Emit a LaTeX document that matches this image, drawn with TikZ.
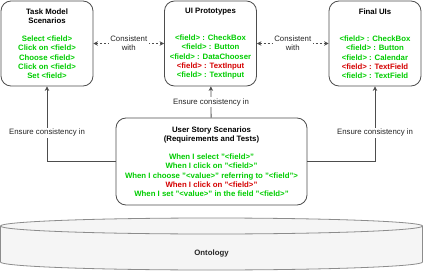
\documentclass[tikz,border=0pt]{standalone}
\usepackage{fontspec}
\setmainfont{Liberation Sans}
\usepackage{xcolor}
\usetikzlibrary{arrows.meta}
\definecolor{uigreen}{HTML}{00CC00}
\definecolor{uired}{HTML}{D40000}
\definecolor{edgegray}{HTML}{4D4D4D}
\definecolor{ontofill}{HTML}{F5F5F5}
\definecolor{ontoline}{HTML}{8C8C8C}
\begin{document}
\begin{tikzpicture}[>={Stealth[length=4.5pt,width=4.5pt]}, x=1pt, y=1pt, line width=0.8pt,
    font=\fontsize{7.8}{9.2}\selectfont,
    scenbox/.style={draw=edgegray, rounded corners=10pt, minimum width=92, minimum height=85, align=center, inner sep=0pt, font=\fontsize{7.8}{9.2}\selectfont\bfseries},
    link/.style={draw=edgegray, ->},
    looselink/.style={draw=edgegray, <->, dash pattern=on 2pt off 2pt},
    linklabel/.style={fill=white, inner sep=1.5pt, align=center, text=black!85}]
    \useasboundingbox (0,0) rectangle (423,271);

    \node[scenbox] (task) at (47,227.5) {Task Model\\Scenarios\\[9.2pt]
        \textcolor{uigreen}{Select <field>}\\
        \textcolor{uigreen}{Click on <field>}\\
        \textcolor{uigreen}{Choose <field>}\\
        \textcolor{uigreen}{Click on <field>}\\
        \textcolor{uigreen}{Set <field>}};
    \node[scenbox] (proto) at (210.5,227.5) {UI Prototypes\\[18.4pt]
        \textcolor{uigreen}{<field> : CheckBox}\\
        \textcolor{uigreen}{<field> : Button}\\
        \textcolor{uigreen}{<field> : DataChooser}\\
        \textcolor{uired}{<field> : TextInput}\\
        \textcolor{uigreen}{<field> : TextInput}};
    \node[scenbox] (final) at (375,227.5) {Final UIs\\[18.4pt]
        \textcolor{uigreen}{<field> : CheckBox}\\
        \textcolor{uigreen}{<field> : Button}\\
        \textcolor{uigreen}{<field> : Calendar}\\
        \textcolor{uired}{<field> : TextField}\\
        \textcolor{uigreen}{<field> : TextField}};
    \node[scenbox, minimum width=191, minimum height=87] (story) at (211.5,109.5) {User Story Scenarios\\(Requirements and Tests)\\[9.2pt]
        \textcolor{uigreen}{When I select "<field>"}\\
        \textcolor{uigreen}{When I click on "<field>"}\\
        \textcolor{uigreen}{When I choose "<value>" referring to "<field">}\\
        \textcolor{uired}{When I click on "<field>"}\\
        \textcolor{uigreen}{When I set "<value>" in the field "<field>"}};

    \draw[looselink] (task) -- (proto) node[midway, linklabel] {Consistent\\with};
    \draw[looselink] (proto) -- (final) node[midway, linklabel] {Consistent\\with};

    \draw[link] (story) -- (proto) node[midway, linklabel] {Ensure consistency in};
    \draw[link] (story.west) -| (task.south) node[pos=0.69, linklabel] {Ensure consistency in};
    \draw[link] (story.east) -| (final.south) node[pos=0.69, linklabel] {Ensure consistency in};

    \draw[draw=ontoline, fill=ontofill] (0.5,45) -- (0.5,9) arc[start angle=180, end angle=360, x radius=211, y radius=8]
        -- (422.5,45) arc[start angle=0, end angle=180, x radius=211, y radius=8] -- cycle;
    \draw[draw=ontoline] (0.5,45) arc[start angle=180, end angle=360, x radius=211, y radius=8];
    \node[font=\fontsize{7.8}{9.2}\selectfont\bfseries, text=black!85] (onto) at (211.5,18) {Ontology};
\end{tikzpicture}
\end{document}
